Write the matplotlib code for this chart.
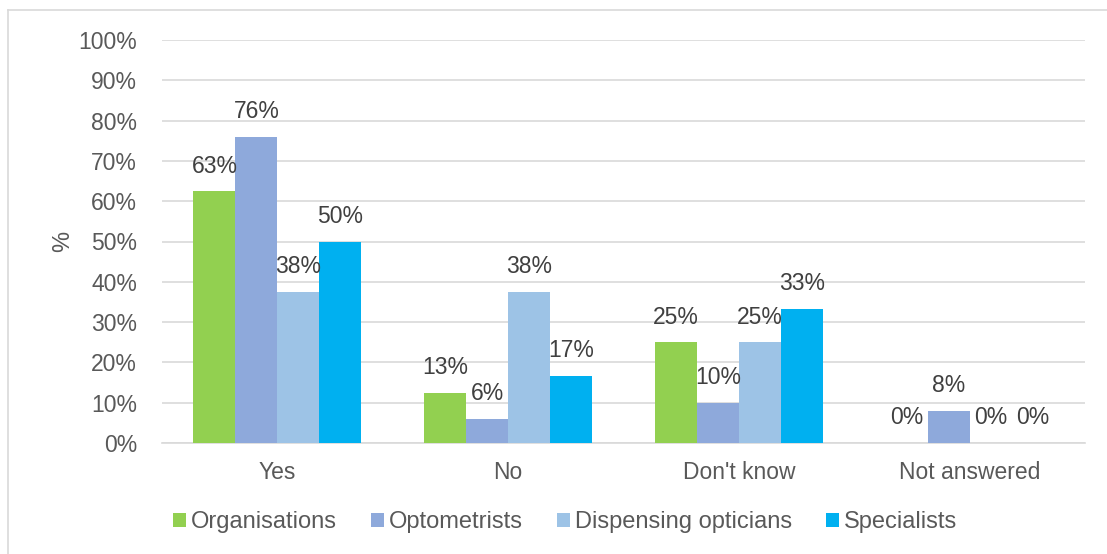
import matplotlib
matplotlib.use("Agg")
import matplotlib.pyplot as plt
from matplotlib.lines import Line2D
import numpy as np

categories = ["Yes", "No", "Don't know", "Not answered"]
series_names = ["Organisations", "Optometrists", "Dispensing opticians", "Specialists"]
organisations = [62.5, 12.5, 25.0, 0.0]
optometrists = [76.0, 6.0, 10.0, 8.0]
dispensing = [37.5, 37.5, 25.0, 0.0]
specialists = [50.0, 16.7, 33.3, 0.0]
labels = [["63%", "13%", "25%", "0%"],
          ["76%", "6%", "10%", "8%"],
          ["38%", "38%", "25%", "0%"],
          ["50%", "17%", "33%", "0%"]]
yticks = [0, 10, 20, 30, 40, 50, 60, 70, 80, 90, 100]
colors = ["#92D050", "#8EA9DB", "#9DC3E6", "#00B0F0"]

plt.rcParams['font.family'] = ['Liberation Sans', 'DejaVu Sans']
txt = "#595959"
fs = 16.5

fig = plt.figure(figsize=(11.07, 5.54), dpi=100)
ax = fig.add_axes([162/1107, 1-443/554, (1085-162)/1107, (443-40)/554])

x = np.arange(len(categories))
w = 0.182
data = [organisations, optometrists, dispensing, specialists]
for i, (vals, name, c) in enumerate(zip(data, series_names, colors)):
    pos = x + (i - 1.5) * w
    ax.bar(pos, vals, width=w, color=c, label=name, zorder=3)
    for p, v, l in zip(pos, vals, labels[i]):
        ax.annotate(l, (p, v), xytext=(0, 18), textcoords="offset points",
                    ha="center", va="center", fontsize=fs, color="#404040", zorder=4)

ax.set_xlim(-0.5, 3.5)
ax.set_ylim(0, 100)
ax.set_yticks(yticks)
ax.set_yticklabels([f"{t}%" for t in yticks], fontsize=fs, color=txt)
ax.set_xticks(x)
ax.set_xticklabels(categories, fontsize=fs, color=txt)
ax.tick_params(axis="both", length=0)
ax.tick_params(axis="y", pad=18)
ax.tick_params(axis="x", pad=13)
ax.yaxis.grid(True, color="#D9D9D9", linewidth=1.2, zorder=0)
for s in ["top", "right", "left"]:
    ax.spines[s].set_visible(False)
ax.spines["bottom"].set_color("#D9D9D9")
ax.spines["bottom"].set_linewidth(1.2)
ax.set_ylabel("%", fontsize=17, color=txt, labelpad=3)

leg = fig.legend(loc="center", bbox_to_anchor=(565/1107, 1-522/554), ncol=4,
                 frameon=False, fontsize=17, handlelength=0.55, handleheight=0.55,
                 handletextpad=0.2, columnspacing=1.45)
for t in leg.get_texts():
    t.set_color(txt)

fig.add_artist(Line2D([8/1107, 8/1107], [0, 1-10/554], transform=fig.transFigure,
                      color="#D9D9D9", linewidth=1.2))
fig.add_artist(Line2D([8/1107, 1], [1-10/554, 1-10/554], transform=fig.transFigure,
                      color="#D9D9D9", linewidth=1.2))

fig.savefig("out.png", dpi=100)
